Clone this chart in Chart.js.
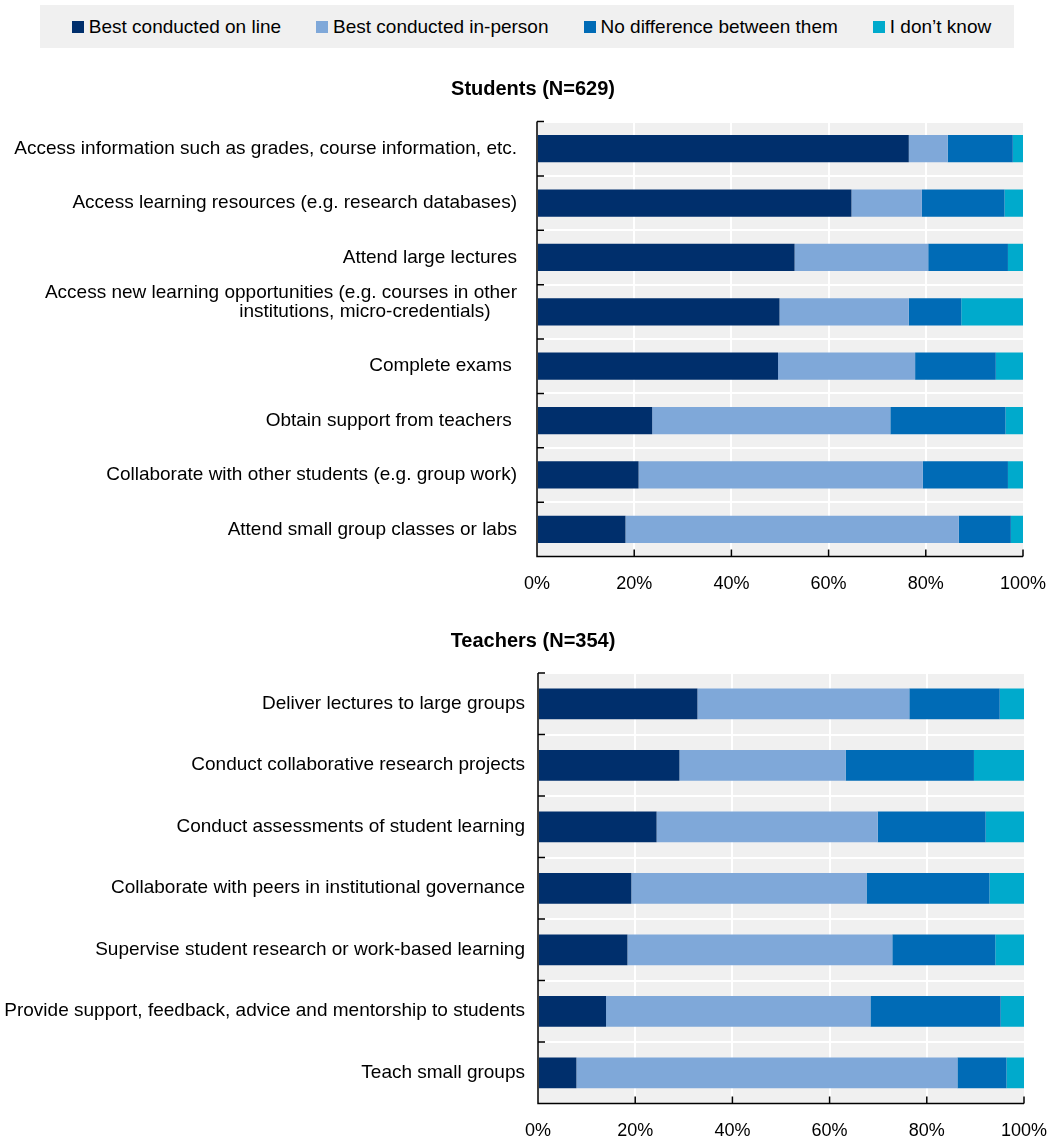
<!DOCTYPE html>
<html>
<head>
<meta charset="utf-8">
<script src="https://cdn.jsdelivr.net/npm/chart.js@4.4.1/dist/chart.umd.min.js"></script>
<style>
  html, body { margin: 0; padding: 0; background: #fff; overflow: hidden; }
  body { width: 1053px; height: 1144px; position: relative; font-family: "Liberation Sans", Arial, sans-serif; }
  #legend {
    position: absolute; left: 40px; top: 5px; width: 974px; height: 43px;
    box-sizing: border-box; padding-left: 9px;
    background: #f0f0f0; display: flex; align-items: center; justify-content: center;
    font-size: 19px; color: #000;
  }
  #legend .item { display: flex; align-items: center; margin: 0 17.5px; white-space: nowrap; }
  #legend .swatch { width: 12px; height: 12px; margin-right: 5px; }
  .panel { position: absolute; left: 0; }
</style>
</head>
<body>
<div id="legend"></div>
<canvas id="students" class="panel" style="top:60px" width="1066" height="540"></canvas>
<canvas id="teachers" class="panel" style="top:605px" width="1066" height="539"></canvas>
<script>
const seriesNames = ['Best conducted on line', 'Best conducted in-person', 'No difference between them', 'I don\u2019t know'];
const seriesColors = ['#002F6C', '#7FA8D9', '#006BB6', '#00AACC'];

const xTickValues = [0, 20, 40, 60, 80, 100];

const studentCategories = [
  'Access information such as grades, course information, etc.',
  'Access learning resources (e.g. research databases)',
  'Attend large lectures',
  ['Access new learning opportunities (e.g. courses in other', 'institutions, micro-credentials)     ', ''],
  'Complete exams ',
  'Obtain support from teachers ',
  'Collaborate with other students (e.g. group work)',
  'Attend small group classes or labs'
];
const studentOnline    = [76.5, 64.7, 53.0, 49.9, 49.6, 23.7, 20.9, 18.2];
const studentInPerson  = [8.0, 14.5, 27.5, 26.6, 28.2, 49.0, 58.5, 68.6];
const studentNoDiff    = [13.4, 17.0, 16.4, 10.8, 16.6, 23.7, 17.5, 10.7];
const studentDontKnow  = [2.1, 3.8, 3.1, 12.7, 5.6, 3.6, 3.1, 2.5];

const teacherCategories = [
  'Deliver lectures to large groups',
  'Conduct collaborative research projects',
  'Conduct assessments of student learning',
  'Collaborate with peers in institutional governance',
  'Supervise student research or work-based learning',
  'Provide support, feedback, advice and mentorship to students',
  'Teach small groups'
];
const teacherOnline    = [32.8, 29.1, 24.4, 19.2, 18.4, 14.0, 7.9];
const teacherInPerson  = [43.6, 34.2, 45.5, 48.4, 54.5, 54.4, 78.4];
const teacherNoDiff    = [18.6, 26.4, 22.2, 25.3, 21.2, 26.8, 10.1];
const teacherDontKnow  = [5.0, 10.3, 7.9, 7.1, 5.9, 4.8, 3.6];

Chart.defaults.font.family = '"Liberation Sans", Arial, sans-serif';
Chart.defaults.color = '#000';

// shared legend above both panels
const legendBox = document.getElementById('legend');
seriesNames.forEach((name, i) => {
  const item = document.createElement('div');
  item.className = 'item';
  const swatch = document.createElement('span');
  swatch.className = 'swatch';
  swatch.style.background = seriesColors[i];
  item.appendChild(swatch);
  item.appendChild(document.createTextNode(name));
  legendBox.appendChild(item);
});

// grey plot area behind the grid
const plotBackground = {
  id: 'plotBackground',
  beforeDraw(chart) {
    const { ctx, chartArea: a } = chart;
    ctx.save();
    ctx.fillStyle = '#f0f0f0';
    ctx.fillRect(a.left, a.top, a.right - a.left, a.bottom - a.top);
    ctx.restore();
  }
};

// black axis lines with ticks pointing into the plot
const axisLines = {
  id: 'axisLines',
  afterDraw(chart) {
    const { ctx, chartArea: a, scales: { x, y } } = chart;
    ctx.save();
    ctx.strokeStyle = '#000';
    ctx.lineWidth = 1.5;
    ctx.beginPath();
    ctx.moveTo(a.left, a.top);
    ctx.lineTo(a.left, a.bottom);
    ctx.lineTo(a.right, a.bottom);
    x.ticks.forEach(t => {
      const px = x.getPixelForValue(t.value);
      ctx.moveTo(px, a.bottom);
      ctx.lineTo(px, a.bottom - 7);
    });
    for (let i = 0; i <= y.ticks.length; i++) {
      const py = y.getPixelForValue(i - 0.5);
      ctx.moveTo(a.left, py);
      ctx.lineTo(a.left + 7, py);
    }
    ctx.stroke();
    ctx.restore();
  }
};

// panel heading, centred on the whole canvas rather than the padded box
const panelTitle = {
  id: 'panelTitle',
  afterDraw(chart, args, opts) {
    const ctx = chart.ctx;
    ctx.save();
    ctx.font = 'bold 20px "Liberation Sans", Arial, sans-serif';
    ctx.fillStyle = '#000';
    ctx.textAlign = 'center';
    ctx.textBaseline = 'middle';
    ctx.fillText(opts.text, chart.width / 2, opts.y);
    ctx.restore();
  }
};

function drawPanel(id, title, categories, series, layout) {
  return new Chart(document.getElementById(id), {
    type: 'bar',
    data: {
      labels: categories,
      datasets: series.map((data, i) => ({
        label: seriesNames[i],
        data: data,
        backgroundColor: seriesColors[i],
        borderWidth: 0,
        barPercentage: 0.5,
        categoryPercentage: 1
      }))
    },
    options: {
      indexAxis: 'y',
      responsive: false,
      animation: false,
      events: [],
      layout: { padding: { top: layout.top, left: 0, right: layout.right, bottom: layout.bottom } },
      plugins: {
        legend: { display: false },
        tooltip: { enabled: false },
        title: { display: false },
        panelTitle: { text: title, y: layout.titleY }
      },
      scales: {
        x: {
          stacked: true,
          min: 0,
          max: 100,
          afterBuildTicks(scale) {
            scale.ticks = xTickValues.map(v => ({ value: v }));
          },
          afterFit(scale) { scale.height = 40; },
          border: { display: false },
          grid: {
            drawTicks: false,
            lineWidth: 2,
            color: c => (c.tick && (c.tick.value === 0 || c.tick.value === 100)) ? 'rgba(0,0,0,0)' : '#ffffff'
          },
          ticks: {
            padding: 17,
            font: { size: 18 },
            color: '#000',
            callback: v => v + '%'
          }
        },
        y: {
          stacked: true,
          // y axis box ends where the plot starts
          afterFit(scale) { scale.width = layout.axisX; },
          border: { display: false },
          grid: { drawTicks: false, lineWidth: 2, color: '#ffffff', offset: true },
          ticks: {
            padding: layout.labelGap,
            font: { size: 19, lineHeight: 1.0 },
            color: '#000',
            autoSkip: false
          }
        }
      }
    },
    plugins: [plotBackground, axisLines, panelTitle]
  });
}

drawPanel('students', 'Students (N=629)', studentCategories,
  [studentOnline, studentInPerson, studentNoDiff, studentDontKnow],
  { axisX: 537, labelGap: 20, top: 61.5, right: 43, bottom: 3.5, titleY: 29 });

drawPanel('teachers', 'Teachers (N=354)', teacherCategories,
  [teacherOnline, teacherInPerson, teacherNoDiff, teacherDontKnow],
  { axisX: 538, labelGap: 13, top: 68, right: 42, bottom: 0.5, titleY: 36 });
</script>
</body>
</html>
